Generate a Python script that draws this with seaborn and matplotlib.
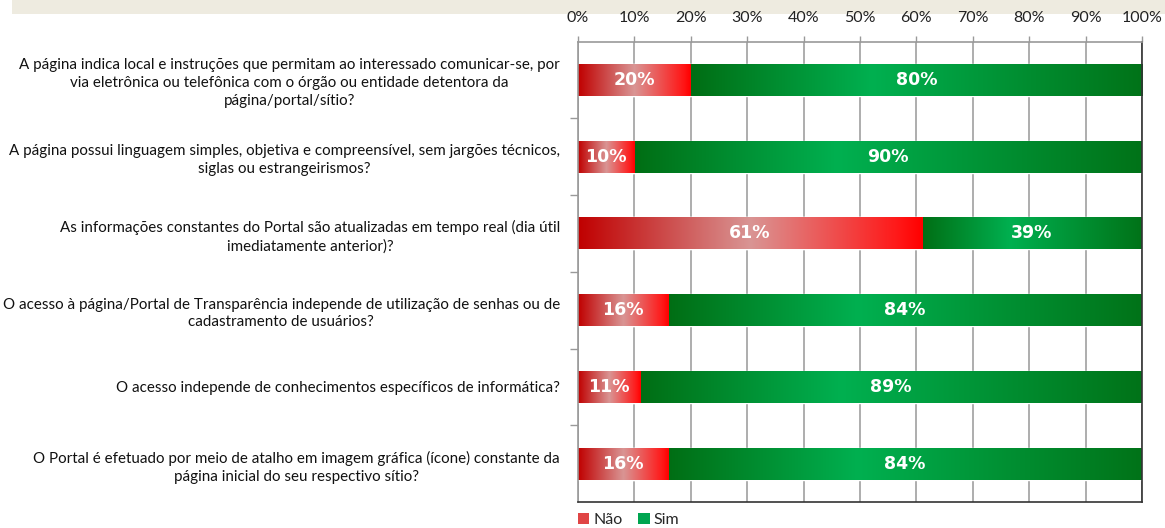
import numpy as np
import pandas as pd
import matplotlib
matplotlib.use("Agg")
import matplotlib.pyplot as plt
from matplotlib.colors import LinearSegmentedColormap
from matplotlib.patches import Rectangle, Patch
import seaborn as sns

categories = [
    "A página indica local e instruções que permitam ao interessado comunicar-se, por\nvia eletrônica ou telefônica com o órgão ou entidade detentora da\npágina/portal/sítio?",
    "A página possui linguagem simples, objetiva e compreensível, sem jargões técnicos,\nsiglas ou estrangeirismos?",
    "As informações constantes do Portal são atualizadas em tempo real (dia útil\nimediatamente anterior)?",
    "O acesso à página/Portal de Transparência independe de utilização de senhas ou de\ncadastramento de usuários?",
    "O acesso independe de conhecimentos específicos de informática?",
    "O Portal é efetuado por meio de atalho em imagem gráfica (ícone) constante da\npágina inicial do seu respectivo sítio?",
]
nao = [20, 10, 61, 16, 11, 16]
sim = [80, 90, 39, 84, 89, 84]
xticks = [0, 10, 20, 30, 40, 50, 60, 70, 80, 90, 100]
series_names = ["Não", "Sim"]

sns.set_theme(style="white")
plt.rcParams["font.family"] = ["Lato", "DejaVu Sans"]

df = pd.DataFrame({"cat": categories, "nao": nao, "sim": sim})
df["total"] = df["nao"] + df["sim"]

fig = plt.figure(figsize=(11.65, 5.28), dpi=100)
W, H = 1165, 528

# header band (behind everything)
fig.patches.append(Rectangle((12 / W, 1 - 14 / H), 1 - 12 / W, 14 / H,
                             transform=fig.transFigure, facecolor="#EEEBE0",
                             edgecolor="none", zorder=-5))

ax = fig.add_axes([578 / W, 1 - 502 / H, (1142 - 578) / W, (502 - 41.5) / H])
ax.patch.set_alpha(0)

green = "#00A550"
red = "#E03030"
sns.barplot(data=df, x="total", y="cat", color=green, width=0.42, ax=ax,
            saturation=1, orient="h")
sns.barplot(data=df, x="nao", y="cat", color=red, width=0.42, ax=ax,
            saturation=1, orient="h")

red_cmap = LinearSegmentedColormap.from_list(
    "r", [(0, "#C00000"), (0.5, "#D99594"), (0.93, "#FF1818"), (1.0, "#FF0000")])
green_cmap = LinearSegmentedColormap.from_list(
    "g", [(0, "#006E14"), (0.4, "#00B050"), (1.0, "#007318")])

grad = np.linspace(0, 1, 256).reshape(1, -1)
n = len(categories)
patches = list(ax.patches)
for i, p in enumerate(patches):
    x0, y0 = p.get_x(), p.get_y()
    w, h = p.get_width(), p.get_height()
    if i < n:
        cmap = green_cmap
        xs = nao[i]
        w = w - nao[i]
        z = p.get_zorder() + 0.1
    else:
        cmap = red_cmap
        xs = x0
        z = p.get_zorder() + 0.2
    im = ax.imshow(grad, cmap=cmap, aspect="auto", extent=[xs, xs + w, y0 + h, y0],
                   zorder=z, interpolation="bilinear")
    im.set_clip_path(p)

ax.set_xlim(0, 100)
ax.set_ylim(n - 0.5, -0.5)

for i in range(n):
    ax.text(nao[i] / 2, i, f"{nao[i]}%", ha="center", va="center", color="white",
            fontsize=12.5, fontweight="bold", family="DejaVu Sans", zorder=5)
    ax.text(nao[i] + sim[i] / 2, i, f"{sim[i]}%", ha="center", va="center",
            color="white", fontsize=12.5, fontweight="bold",
            family="DejaVu Sans", zorder=5)

# axes styling
ax.xaxis.tick_top()
ax.set_xticks(xticks)
ax.set_xticklabels([f"{t}%" for t in xticks], fontsize=11.5, color="#222222")
ax.tick_params(axis="x", which="major", length=4, width=1, color="#999999",
               pad=8, direction="out", top=True, bottom=False)
ax.set_xlabel("")
ax.set_ylabel("")
ax.grid(axis="x", color="#A0A0A0", linewidth=1.2, zorder=0)
ax.set_axisbelow(True)

ax.set_yticks(range(n))
ax.set_yticklabels(categories, fontsize=10.9, color="#111111", linespacing=1.35)
for t in ax.get_yticklabels():
    t.set_multialignment("center")
ax.tick_params(axis="y", which="major", length=0, pad=13)
ax.set_yticks(np.arange(0.5, n - 0.5, 1), minor=True)
ax.tick_params(axis="y", which="minor", length=6, width=1, color="#999999",
               direction="out", left=True)

for s in ["left", "top"]:
    ax.spines[s].set_color("#999999")
    ax.spines[s].set_linewidth(1.2)
for s in ["right", "bottom"]:
    ax.spines[s].set_color("#333333")
    ax.spines[s].set_linewidth(1.2)
    ax.spines[s].set_visible(True)

handles = [Patch(facecolor="#E04545", edgecolor="none"),
           Patch(facecolor="#00A550", edgecolor="none")]
fig.legend(handles, series_names, loc="center left",
           bbox_to_anchor=(578 / W, 1 - 520 / H), ncol=2, frameon=False,
           fontsize=11.5, handlelength=0.7, handleheight=0.7,
           handletextpad=0.25, columnspacing=1.0, borderaxespad=0, borderpad=0)

fig.savefig("out.png", dpi=100)
